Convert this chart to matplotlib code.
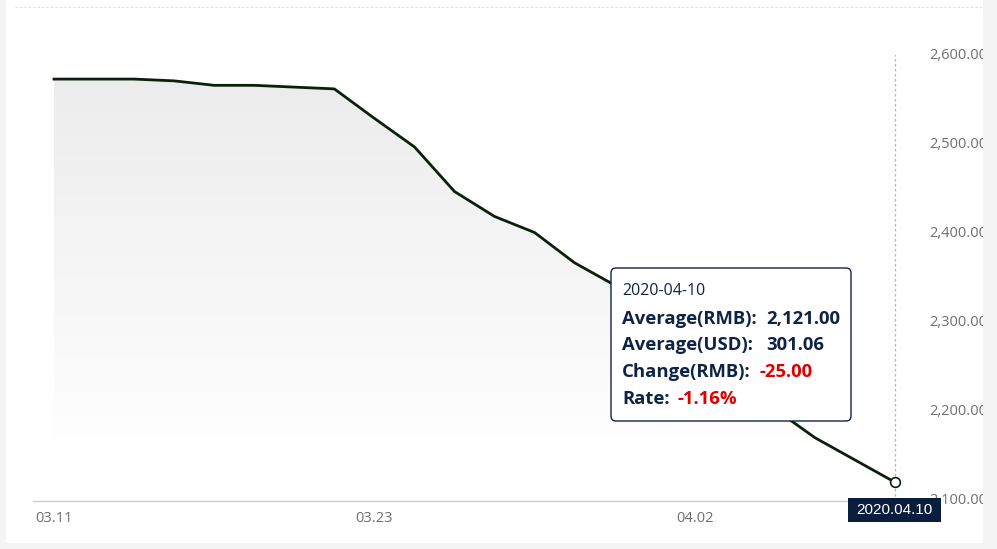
import numpy as np
import matplotlib
matplotlib.use("Agg")
import matplotlib.pyplot as plt
from matplotlib.patches import Rectangle, FancyBboxPatch, Polygon
from matplotlib.transforms import IdentityTransform

# ---- data ------------------------------------------------------------------
dates = ["03.11", "03.12", "03.13", "03.16", "03.17", "03.18", "03.19", "03.20",
         "03.23", "03.24", "03.25", "03.26", "03.27", "03.30", "03.31",
         "04.01", "04.02", "04.03", "04.07", "04.08", "04.09", "04.10"]
avg_rmb = [2573, 2573, 2573, 2571, 2566, 2566, 2564, 2562,
           2529, 2497, 2447, 2419, 2401, 2367, 2342,
           2308, 2274, 2240, 2203, 2171, 2146, 2121]
shown_ticks = ["03.11", "03.23", "04.02"]
y_ticks = [2100, 2200, 2300, 2400, 2500, 2600]

tip_date = "2020-04-10"
tip_rows = [("Average(RMB):", "2,121.00", False),
            ("Average(USD):", "301.06", False),
            ("Change(RMB):", "-25.00", True),
            ("Rate:", "-1.16%", True)]
hover_label = "2020.04.10"

NAVY = "#0f2346"
RED = "#e00000"
GREY_TXT = "#6e6e6e"

W, H = 997, 549
fig = plt.figure(figsize=(W / 100, H / 100), dpi=100)
fig.patch.set_facecolor("#f4f4f4")
# white card
fig.patches.append(Rectangle((6 / W, 6 / H), (983 - 6) / W, (H - 6) / H,
                             transform=fig.transFigure, facecolor="white",
                             edgecolor="none", zorder=-5))
# dotted line at the top of the card
fig.add_artist(plt.Line2D([15 / W, 983 / W], [(H - 7) / H] * 2, color="#dddddd",
                          lw=0.8, ls=(0, (2, 2)), transform=fig.transFigure))

x = np.arange(len(dates))
px_per = (895 - 54) / (len(dates) - 1)
left_px, right_px = 33, 915
ax = fig.add_axes([left_px / W, (H - 501) / H, (right_px - left_px) / W, 446 / H])
ax.set_facecolor("none")
ax.set_xlim(-(54 - left_px) / px_per, len(dates) - 1 + (right_px - 895) / px_per)
ax.set_ylim(2100, 2600)

# gradient fill under the line (light grey at the top fading to white)
grad = np.linspace(0.925, 1.0, 256).reshape(-1, 1)
img = ax.imshow(np.dstack([grad, grad, grad]), extent=(0, len(dates) - 1, 2150, 2580),
                origin="upper", aspect="auto", zorder=1)
poly = Polygon(np.column_stack([np.r_[x, x[-1], x[0]], np.r_[avg_rmb, 2100, 2100]]),
               closed=True, transform=ax.transData, facecolor="none", edgecolor="none")
ax.add_patch(poly)
img.set_clip_path(poly)
ax.set_xlim(-(54 - left_px) / px_per, len(dates) - 1 + (right_px - 895) / px_per)
ax.set_ylim(2100, 2600)

ax.plot(x, avg_rmb, color="#0c1f0c", lw=2, zorder=3, solid_joinstyle="round")
ax.axvline(x[-1], ymin=0, ymax=(2600 - 2100 + 5) / 500, color="#b5b5b5", lw=0.9,
           ls=(0, (2, 2)), zorder=2)
ax.plot(x[-1], avg_rmb[-1], "o", ms=7, mfc="white", mec="#0c1f0c", mew=1.2, zorder=4)

for s in ["top", "right", "left"]:
    ax.spines[s].set_visible(False)
ax.spines["bottom"].set_color("#cccccc")
ax.spines["bottom"].set_linewidth(1)

ax.set_xticks([dates.index(d) for d in shown_ticks])
ax.set_xticklabels(shown_ticks, family="Open Sans", fontsize=10.5, color=GREY_TXT)
ax.tick_params(axis="x", length=0, pad=7)
ax.yaxis.tick_right()
ax.set_yticks(y_ticks)
ax.set_yticklabels([f"{v:,.2f}" for v in y_ticks], family="Open Sans", fontsize=10.5,
                   color=GREY_TXT)
ax.tick_params(axis="y", length=0, pad=10)
for lbl in ax.get_yticklabels():
    lbl.set_va("center")

# cover the right margin so the tick labels are clipped at the card edge
fig.patches.append(Rectangle((983 / W, 0), 1, 1, transform=fig.transFigure,
                             facecolor="#f4f4f4", edgecolor="none", zorder=10))
fig.patches.append(Rectangle((0, 0), 1, 6 / H, transform=fig.transFigure,
                             facecolor="#f4f4f4", edgecolor="none", zorder=10))

# hover date box
px = IdentityTransform()
fig.patches.append(Rectangle((848, H - 522), 93, 24, transform=px,
                             facecolor="#0b1d3d", edgecolor="none", zorder=6))
fig.text(894.5, H - 510, hover_label, transform=px, color="white", fontsize=11,
         family="Liberation Sans", ha="center", va="center", zorder=7)

# tooltip
fig.patches.append(FancyBboxPatch((611, H - 421), 240, 153, transform=px,
                                  boxstyle="round,pad=0,rounding_size=5",
                                  facecolor="white", edgecolor=NAVY, lw=1, zorder=6))
fig.text(622, H - 291, tip_date, transform=px, color=NAVY, fontsize=11.5,
         family="Open Sans", va="center", zorder=7)
value_x = [766, 766, 760, 678]
for i, (lab, val, neg) in enumerate(tip_rows):
    yy = H - (319 + 26.5 * i)
    fig.text(622, yy, lab, transform=px, color=NAVY, fontsize=13.3, weight="bold",
             family="Open Sans", va="center", zorder=7)
    fig.text(value_x[i], yy, val, transform=px, color=RED if neg else NAVY,
             fontsize=13.3, weight="bold", family="Open Sans", va="center", zorder=7)

fig.savefig("out.png", dpi=100, facecolor=fig.get_facecolor())
